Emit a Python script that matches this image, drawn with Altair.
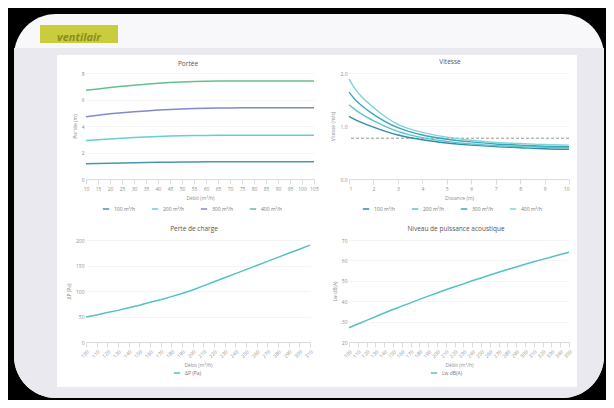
import altair as alt
import pandas as pd

# ---------------- data ----------------
tl_x = ["10", "15", "20", "25", "30", "35", "40", "45", "50", "55",
        "60", "65", "70", "75", "80", "85", "90", "95", "100", "105"]
tl_names = ["100 m³/h", "200 m³/h", "300 m³/h", "400 m³/h"]
tl_s100 = [1.15, 1.17, 1.19, 1.21, 1.23, 1.25, 1.26, 1.27, 1.28, 1.29,
           1.30, 1.30, 1.30, 1.30, 1.30, 1.30, 1.30, 1.30, 1.30, 1.30]
tl_s200 = [2.90, 2.96, 3.02, 3.08, 3.13, 3.17, 3.21, 3.24, 3.26, 3.28,
           3.29, 3.30, 3.30, 3.30, 3.30, 3.30, 3.30, 3.30, 3.30, 3.30]
tl_s300 = [4.70, 4.82, 4.92, 5.00, 5.08, 5.14, 5.20, 5.25, 5.29, 5.32,
           5.34, 5.35, 5.36, 5.37, 5.37, 5.38, 5.38, 5.38, 5.38, 5.38]
tl_s400 = [6.70, 6.80, 6.90, 7.00, 7.08, 7.16, 7.22, 7.28, 7.33, 7.36,
           7.38, 7.39, 7.40, 7.40, 7.40, 7.40, 7.40, 7.40, 7.40, 7.40]
tl_colors = ["#4a97aa", "#66cfd3", "#8488cc", "#62c08c"]

tr_x = [1, 1.25, 1.5, 2, 2.5, 3, 4, 5, 6, 7, 8, 9, 10]
tr_names = ["100 m³/h", "200 m³/h", "300 m³/h", "400 m³/h"]
tr_s100 = [1.18, 1.12, 1.07, 0.98, 0.90, 0.83, 0.74, 0.68, 0.64, 0.61, 0.59, 0.57, 0.56]
tr_s200 = [1.40, 1.31, 1.23, 1.10, 0.99, 0.90, 0.78, 0.71, 0.66, 0.63, 0.61, 0.60, 0.59]
tr_s300 = [1.64, 1.50, 1.39, 1.22, 1.08, 0.97, 0.83, 0.75, 0.70, 0.66, 0.64, 0.62, 0.61]
tr_s400 = [1.89, 1.70, 1.56, 1.35, 1.17, 1.03, 0.88, 0.79, 0.73, 0.69, 0.67, 0.65, 0.64]
tr_colors = ["#2f8ea6", "#5fc3cc", "#3aa7b8", "#7fd3da"]
tr_ref = [0.77]

bl_x = ["100", "110", "120", "130", "140", "150", "160", "170", "180", "190", "200",
        "210", "220", "230", "240", "250", "260", "270", "280", "290", "300", "310"]
bl_y = [49, 53, 58, 62, 67, 72, 78, 83, 89, 95, 102,
        110, 118, 126, 134, 142, 150, 158, 166, 174, 182, 190]

br_x = ["100", "110", "120", "130", "140", "150", "160", "170", "180", "190", "200", "210", "220",
        "230", "240", "250", "260", "270", "280", "290", "300", "310", "320", "330", "340", "350"]
br_y = [27.0, 28.8, 30.6, 32.4, 34.2, 35.9, 37.6, 39.2, 40.9, 42.5, 44.0, 45.6, 47.1,
        48.5, 50.0, 51.4, 52.8, 54.2, 55.5, 56.8, 58.1, 59.3, 60.5, 61.7, 62.9, 64.0]

line_color = "#56c2bf"

# ---------------- tables ----------------
tl_df = pd.DataFrame({
    "x": tl_x * 4,
    "y": tl_s100 + tl_s200 + tl_s300 + tl_s400,
    "s": sum([[n] * len(tl_x) for n in tl_names], []),
})
tr_df = pd.DataFrame({
    "x": tr_x * 4,
    "y": tr_s100 + tr_s200 + tr_s300 + tr_s400,
    "s": sum([[n] * len(tr_x) for n in tr_names], []),
})
bl_df = pd.DataFrame({"x": bl_x, "y": bl_y, "s": ["ΔP (Pa)"] * len(bl_x)})
br_df = pd.DataFrame({"x": br_x, "y": br_y, "s": ["Lw dB(A)"] * len(br_x)})
one = pd.DataFrame({"k": [0]})

FONT = "Open Sans"
lab = dict(labelFontSize=5, labelColor="#8f8f8f", titleFontSize=5, titleColor="#8f8f8f",
           titleFontWeight="normal", labelFont=FONT, titleFont=FONT)
ttl = dict(fontSize=6.5, color="#555", font=FONT, fontWeight="normal", offset=6)

def legend(x, y):
    return alt.Legend(orient="none", legendX=x, legendY=y, direction="horizontal", title=None,
                      symbolType="stroke", symbolStrokeWidth=1.5, symbolSize=40,
                      labelFontSize=5, labelColor="#777", labelFont=FONT, columnPadding=12)

# ---------------- backdrop (drawn inside first panel, local coords) ----------------
bg = [
    alt.Chart(one).mark_rect(color="black").encode(
        x=alt.value(-78), x2=alt.value(520), y=alt.value(-65), y2=alt.value(327)),
    alt.Chart(one).mark_rect(color="#f8f8fa", cornerRadius=42).encode(
        x=alt.value(-72), x2=alt.value(518), y=alt.value(-59), y2=alt.value(325)),
    alt.Chart(one).mark_rect(color="#e9e9ef", cornerRadiusBottomLeft=42,
                             cornerRadiusBottomRight=42).encode(
        x=alt.value(-72), x2=alt.value(518), y=alt.value(-25), y2=alt.value(325)),
    alt.Chart(one).mark_rect(color="#ffffff").encode(
        x=alt.value(-29), x2=alt.value(491), y=alt.value(-18), y2=alt.value(314)),
    alt.Chart(one).mark_rect(color="#c9cc3c").encode(
        x=alt.value(-46), x2=alt.value(32), y=alt.value(-48), y2=alt.value(-30)),
    alt.Chart(one).mark_text(text="ventilair", font=FONT, fontSize=11, fontStyle="italic",
                             fontWeight="bold", color="#8a8c20", align="center").encode(
        x=alt.value(-7), y=alt.value(-35)),
    alt.Chart(one).mark_text(text="Portée", font=FONT, fontSize=6.5, color="#555",
                             align="center").encode(x=alt.value(102), y=alt.value(-9)),
]

# ---------------- panels ----------------
tl_lines = alt.Chart(tl_df).mark_line(strokeWidth=1.5).encode(
    x=alt.X("x:O", sort=None, scale=alt.Scale(padding=0),
            axis=alt.Axis(title="Débit (m³/h)", labelAngle=0, zindex=1, grid=False, **lab)),
    y=alt.Y("y:Q", scale=alt.Scale(domain=[0, 8]),
            axis=alt.Axis(title="Portée (m)", values=[0, 2, 4, 6, 8], zindex=1, domain=False,
                          ticks=False, **lab)),
    color=alt.Color("s:N", sort=tl_names, scale=alt.Scale(domain=tl_names, range=tl_colors),
                    legend=legend(16, 132)),
)
tl = alt.layer(*bg, tl_lines).properties(width=228, height=106)

tr_lines = alt.Chart(tr_df).mark_line(strokeWidth=1.4, interpolate="monotone").encode(
    x=alt.X("x:Q", scale=alt.Scale(domain=[1, 10], nice=False),
            axis=alt.Axis(title="Distance (m)", values=list(range(1, 11)), grid=False, **lab)),
    y=alt.Y("y:Q", scale=alt.Scale(domain=[0, 2]),
            axis=alt.Axis(title="Vitesse (m/s)", values=[0, 0.5, 1, 1.5, 2], domain=False,
                          ticks=False, **lab)),
    color=alt.Color("s:N", sort=tr_names, scale=alt.Scale(domain=tr_names, range=tr_colors),
                    legend=legend(13, 132)),
)
tr_rule = alt.Chart(pd.DataFrame({"v": tr_ref})).mark_rule(
    color="#7a7a7a", strokeDash=[3, 2], strokeWidth=0.8).encode(y="v:Q")
tr = alt.layer(tr_rule, tr_lines).properties(
    width=220, height=106, title=alt.Title("Vitesse", dx=-9, **ttl))

bl = alt.Chart(bl_df).mark_line(strokeWidth=1.5).encode(
    x=alt.X("x:O", sort=None, scale=alt.Scale(padding=0),
            axis=alt.Axis(title="Débit (m³/h)", labelAngle=-45, grid=False, **lab)),
    y=alt.Y("y:Q", scale=alt.Scale(domain=[0, 200]),
            axis=alt.Axis(title="ΔP (Pa)", values=[0, 50, 100, 150, 200], domain=False,
                          ticks=False, **lab)),
    color=alt.Color("s:N", scale=alt.Scale(domain=["ΔP (Pa)"], range=[line_color]),
                    legend=legend(87, 129)),
).properties(width=224, height=102, title=alt.Title("Perte de charge", dx=-4, **ttl))

br = alt.Chart(br_df).mark_line(strokeWidth=1.5).encode(
    x=alt.X("x:O", sort=None, scale=alt.Scale(padding=0),
            axis=alt.Axis(title="Débit (m³/h)", labelAngle=-45, grid=False, **lab)),
    y=alt.Y("y:Q", scale=alt.Scale(domain=[20, 70]),
            axis=alt.Axis(title="Lw dB(A)", values=[20, 30, 40, 50, 60, 70], domain=False,
                          ticks=False, **lab)),
    color=alt.Color("s:N", scale=alt.Scale(domain=["Lw dB(A)"], range=[line_color]),
                    legend=legend(81, 129)),
).properties(width=220, height=102,
             title=alt.Title("Niveau de puissance acoustique", dx=-3, **ttl))

chart = alt.concat(tl, tr, bl, br, columns=2, spacing={"row": 61, "column": 35},
                   bounds="flush").resolve_scale(color="independent").resolve_legend(
    color="independent").properties(background="black", padding=0).configure_view(
    stroke=None).configure_axis(gridColor="#ececec", gridWidth=0.6, domainColor="#dcdcdc",
                                tickColor="#dcdcdc", labelPadding=2)

chart.save("out.html", embed_options={"renderer": "svg", "actions": False})
